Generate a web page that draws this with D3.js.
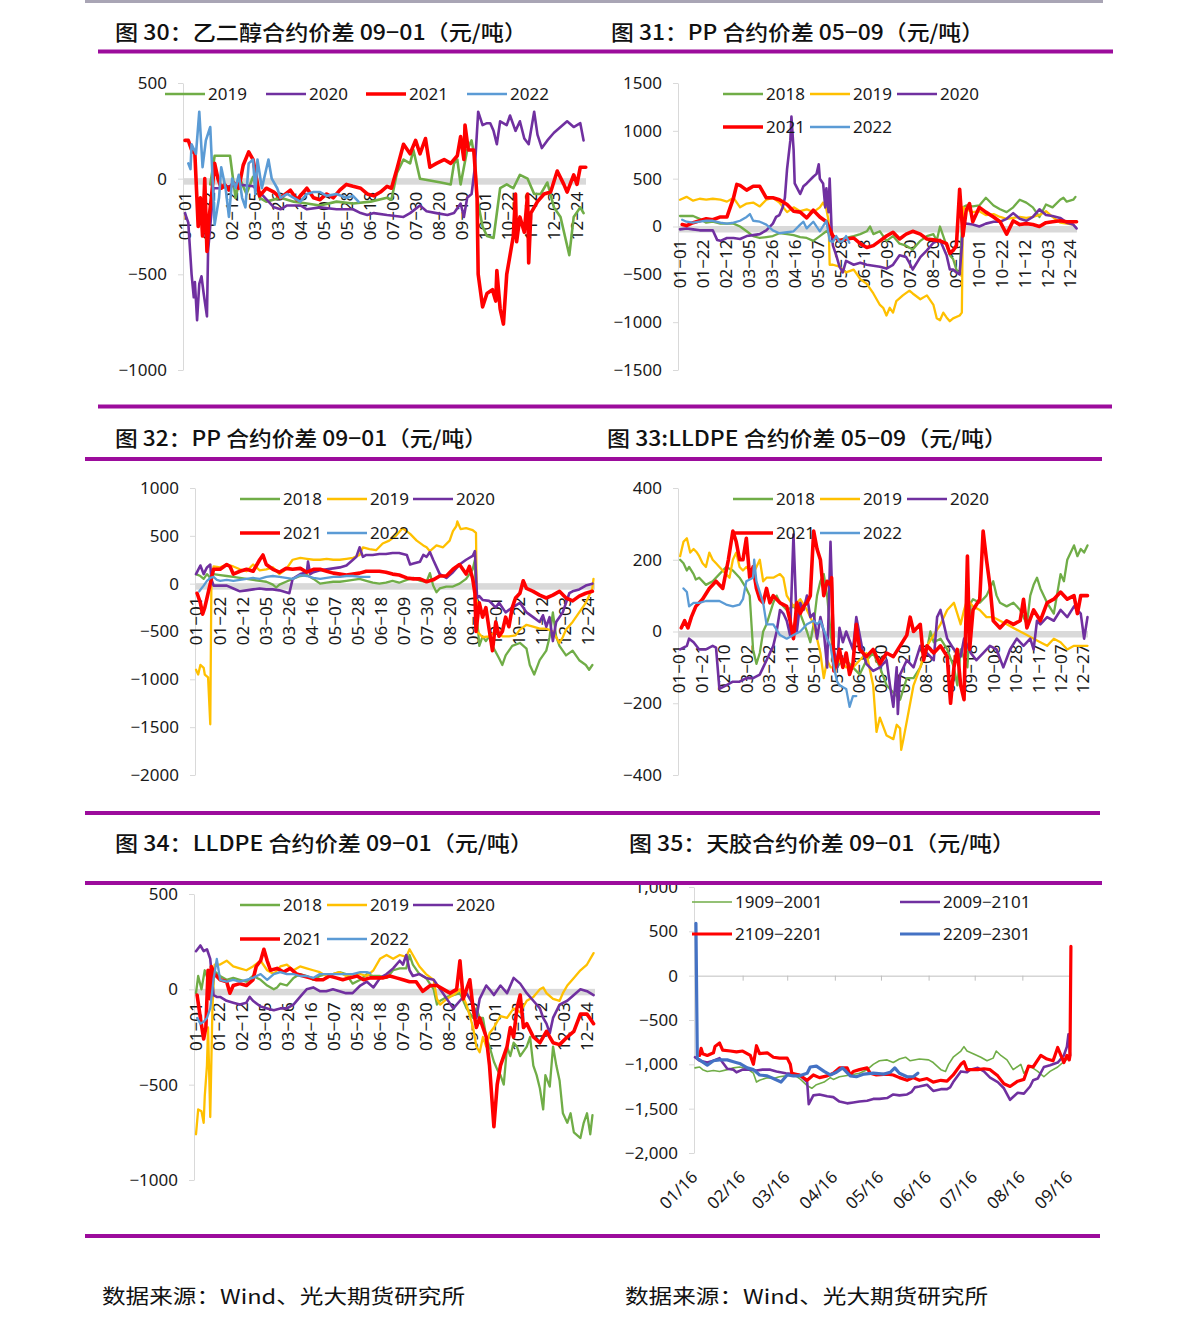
<!DOCTYPE html>
<html>
<head>
<meta charset="utf-8">
<script src="https://cdn.jsdelivr.net/npm/d3@7"></script>
<style>
  body { margin: 0; background: #fff; }
  svg { display: block; }
</style>
</head>
<body>
<svg id="chart" width="1191" height="1330"></svg>
<script>
// ---- category labels (month-day) ----
var cats21 = ["01-01","01-22","02-12","03-05","03-26","04-16","05-07","05-28","06-18","07-09","07-30","08-20","09-10","10-01","10-22","11-12","12-03","12-24"];
var cats20 = ["01-01","01-21","02-10","03-02","03-22","04-11","05-01","05-21","06-10","06-30","07-20","08-09","08-29","09-18","10-08","10-28","11-17","12-07","12-27"];
var rubberTicks = ["01/16","02/16","03/16","04/16","05/16","06/16","07/16","08/16","09/16"];

var yTicks30 = [500, 0, -500, -1000];
var yTicks31 = [1500, 1000, 500, 0, -500, -1000, -1500];
var yTicks32 = [1000, 500, 0, -500, -1000, -1500, -2000];
var yTicks33 = [400, 200, 0, -200, -400];
var yTicks34 = [500, 0, -500, -1000];
var yTicks35 = [1000, 500, 0, -500, -1000, -1500, -2000];

// ---- series: [day of year, value] ----
// 图30 乙二醇 09-01
var meg2019 = [[23,-30],[27,120],[41,120],[46,-100],[50,0],[56,-80],[62,10],[68,-100],[74,-120],[87,-100],[99,-120],[111,-130],[123,-140],[138,-120],[153,-130],[169,-120],[184,-100],[188,-110],[193,30],[199,100],[205,80],[208,150],[214,0],[223,-10],[233,-20],[242,-30],[245,80],[248,100],[251,-30],[257,150],[261,200],[264,100],[266,-100],[271,-250],[275,-300],[281,-310],[287,-50],[293,-30],[299,-50],[305,20],[312,0],[318,-80],[324,-80],[330,-20],[336,-150],[342,-200],[350,-400],[354,-200],[360,-150],[363,-180]];
var meg2020 = [[0,-180],[3,-230],[6,-500],[8,-620],[9,-540],[11,-740],[13,-550],[15,-510],[17,-600],[19,-680],[20,-720],[21,-380],[26,-50],[32,-50],[47,-30],[62,-40],[68,-70],[81,-150],[87,-160],[93,-140],[105,-140],[111,-160],[123,-150],[138,-160],[153,-160],[160,-180],[166,-190],[172,-180],[184,-190],[199,-200],[205,-180],[214,-140],[220,-170],[229,-180],[239,-190],[245,-180],[251,-130],[254,-200],[257,-100],[261,-80],[264,60],[267,350],[271,280],[275,290],[278,290],[281,250],[284,180],[287,300],[293,280],[296,330],[301,250],[305,300],[309,210],[313,180],[318,350],[321,230],[325,160],[330,200],[336,240],[342,270],[348,300],[354,270],[360,290],[363,200]];
var meg2021 = [[0,200],[3,200],[6,150],[9,130],[12,-250],[14,-100],[16,-300],[18,0],[20,-380],[22,-200],[24,-100],[27,80],[30,0],[33,-50],[36,-30],[40,-60],[44,-20],[49,-50],[53,70],[58,140],[62,100],[68,-90],[74,-50],[81,-70],[87,-100],[96,-60],[102,-110],[111,-50],[117,-100],[123,-110],[129,-80],[135,-100],[141,-60],[147,-30],[153,-40],[160,-50],[166,-80],[172,-90],[178,-70],[184,-40],[188,-50],[193,50],[199,180],[205,130],[210,200],[214,130],[219,210],[223,60],[229,80],[236,100],[242,80],[248,120],[251,220],[254,100],[255,280],[258,150],[263,150],[266,-100],[267,-500],[271,-670],[275,-600],[280,-580],[283,-640],[284,-480],[287,-680],[290,-760],[293,-500],[296,-400],[299,-300],[301,-80],[302,-330],[305,-200],[309,-280],[312,-80],[313,-440],[315,-180],[321,-120],[327,-80],[333,-70],[339,40],[345,-30],[348,-70],[354,20],[357,-30],[360,60],[365,60]];
var meg2022 = [[3,80],[5,50],[6,180],[10,130],[13,350],[16,60],[19,200],[23,270],[27,-240],[31,-100],[33,60],[37,-50],[40,-200],[43,0],[46,-50],[49,20],[52,-100],[55,-150],[58,80],[62,100],[64,-80],[66,100],[70,-50],[76,100],[79,0],[84,-50],[87,-100],[93,-80],[99,-100],[105,-120],[111,-80],[117,-70],[123,-70],[129,-90],[138,-80],[147,-100],[153,-90],[158,-120]];

// 图31 PP 05-09
var pp59_2018 = [[0,110],[12,110],[18,80],[24,40],[30,50],[37,30],[49,30],[55,0],[61,-50],[67,-100],[73,-120],[79,-110],[85,-100],[91,-70],[98,-80],[104,-90],[110,-110],[116,-120],[122,-150],[128,-100],[134,-50],[140,-100],[146,-140],[152,-120],[159,-100],[165,-80],[171,-50],[174,0],[177,-80],[183,-50],[189,-150],[195,-100],[201,-180],[207,-200],[213,-240],[220,-150],[226,-100],[232,-80],[235,-150],[238,0],[241,-100],[244,-200],[247,-300],[250,-340],[253,-450],[256,-500],[259,200],[262,220],[268,210],[274,220],[280,300],[287,220],[293,180],[299,150],[305,200],[311,280],[317,250],[323,200],[329,100],[335,230],[341,200],[348,280],[351,300],[354,260],[360,280],[362,310]];
var pp59_2019 = [[0,280],[6,310],[12,270],[18,290],[24,280],[30,290],[37,280],[43,260],[49,300],[55,200],[61,240],[67,250],[73,210],[79,280],[85,300],[91,250],[98,150],[104,200],[110,160],[116,180],[122,150],[128,200],[131,250],[134,180],[136,60],[137,-400],[140,-400],[146,-420],[152,-480],[159,-450],[165,-550],[171,-600],[177,-700],[183,-820],[186,-850],[189,-930],[192,-850],[195,-900],[198,-780],[204,-720],[210,-670],[213,-700],[220,-760],[226,-720],[232,-820],[235,-960],[238,-980],[241,-900],[244,-950],[247,-990],[250,-960],[256,-930],[258,-900],[259,200],[262,180],[268,150],[274,160],[280,120],[287,130],[293,100],[299,80],[305,90],[311,100],[317,90],[323,100],[329,120],[335,160],[341,100],[348,40],[354,30],[360,20]];
var pp59_2020 = [[0,-30],[6,-20],[12,-30],[18,-40],[30,-40],[34,-140],[37,-150],[43,-120],[49,-120],[55,-130],[61,-100],[67,-90],[73,-80],[79,-40],[85,30],[88,100],[91,120],[94,200],[96,300],[98,600],[101,900],[102,1150],[104,800],[105,450],[110,340],[113,420],[116,450],[122,520],[125,550],[127,650],[128,500],[131,450],[133,200],[134,400],[136,150],[137,500],[139,-100],[140,-200],[143,-300],[146,-420],[149,-480],[152,-360],[159,-400],[165,-380],[171,-400],[177,-410],[183,-420],[189,-440],[195,-400],[201,-300],[207,-320],[210,-380],[213,-450],[220,-320],[226,-250],[232,-170],[238,-140],[244,-300],[247,-450],[250,-450],[253,-480],[256,-500],[258,-200],[259,50],[262,30],[268,20],[274,0],[280,30],[287,50],[293,50],[299,80],[305,140],[311,80],[317,60],[323,100],[329,180],[335,120],[341,110],[348,90],[354,40],[360,20],[363,-20]];
var pp59_2021 = [[2,20],[6,10],[12,40],[18,60],[24,80],[30,70],[37,100],[43,100],[49,300],[52,440],[55,430],[61,380],[67,420],[73,420],[79,300],[85,300],[91,280],[98,230],[104,160],[110,150],[116,90],[122,170],[128,100],[134,50],[140,-100],[146,-150],[152,-130],[159,-120],[165,-180],[171,-220],[177,-200],[183,-150],[189,-100],[195,-60],[201,-130],[207,-80],[213,-50],[220,-80],[226,-130],[232,-140],[238,-150],[244,-180],[247,-280],[250,-250],[253,-200],[256,390],[259,-100],[262,170],[265,240],[268,50],[274,200],[280,150],[287,100],[293,50],[299,-80],[305,60],[311,20],[317,30],[323,20],[329,0],[335,40],[341,50],[348,60],[354,50],[363,50]];
var pp59_2022 = [[2,70],[6,50],[12,40],[18,50],[24,60],[30,60],[37,40],[43,30],[49,40],[55,60],[61,100],[64,130],[67,60],[73,50],[79,20],[85,-40],[91,-70],[98,-60],[104,-50],[110,20],[113,50],[116,-20],[122,50],[128,-50],[134,60],[137,-150],[140,-160],[143,-100],[146,-160],[149,-150],[152,-100],[155,-170]];

// 图32 PP 09-01
var pp91_2018 = [[0,100],[4,80],[7,50],[10,100],[13,60],[16,100],[22,90],[28,80],[34,70],[40,60],[46,50],[52,40],[58,30],[64,20],[70,-10],[73,-40],[76,-10],[82,20],[88,50],[95,80],[101,90],[107,50],[113,0],[119,10],[125,20],[131,20],[137,30],[143,40],[149,50],[155,30],[161,10],[167,0],[173,10],[179,30],[185,10],[192,40],[198,60],[204,30],[210,20],[213,110],[216,-20],[219,-90],[222,-50],[228,-30],[234,-30],[240,0],[246,50],[252,150],[254,250],[255,-300],[257,-500],[258,-650],[261,-550],[264,-600],[267,-550],[270,-650],[276,-780],[279,-850],[282,-750],[288,-650],[295,-620],[301,-680],[304,-850],[308,-950],[313,-800],[319,-700],[322,-560],[325,-300],[328,-550],[331,-650],[337,-750],[343,-700],[349,-800],[355,-850],[358,-900],[361,-850]];
var pp91_2019 = [[0,-900],[2,-950],[4,-850],[7,-880],[8,-950],[11,-980],[13,-1470],[14,0],[16,180],[22,170],[28,200],[34,180],[40,150],[46,130],[52,200],[58,140],[64,150],[70,170],[76,100],[82,150],[88,250],[95,270],[101,260],[107,250],[113,250],[119,260],[125,250],[131,250],[137,260],[143,270],[149,300],[152,380],[158,360],[164,350],[170,420],[176,450],[182,500],[188,580],[195,520],[201,450],[207,400],[210,380],[213,340],[219,400],[225,380],[231,450],[234,550],[237,600],[238,650],[241,570],[246,580],[252,560],[255,530],[256,-500],[261,-560],[267,-550],[273,-500],[279,-550],[285,-550],[291,-540],[295,-480],[301,-430],[307,-450],[313,-470],[319,-470],[325,-500],[331,-620],[334,-560],[337,-480],[343,-400],[349,-300],[355,-200],[361,-50],[362,50]];
var pp91_2020 = [[0,100],[4,190],[7,100],[10,170],[13,200],[14,50],[16,-20],[22,-20],[28,-20],[34,-50],[40,-80],[46,-70],[52,-60],[58,-50],[64,-60],[70,-60],[76,-70],[82,-90],[85,-100],[88,50],[95,100],[101,120],[102,230],[104,100],[107,120],[113,140],[119,150],[125,160],[131,170],[137,190],[143,250],[146,280],[149,380],[152,280],[155,300],[161,300],[167,310],[173,310],[179,320],[185,320],[192,300],[195,200],[198,210],[204,230],[207,300],[210,280],[213,330],[216,250],[222,100],[228,60],[234,120],[240,200],[246,250],[252,290],[254,340],[256,-150],[258,-130],[261,-170],[267,-180],[273,-250],[276,-200],[282,-300],[288,-250],[295,-200],[301,-300],[307,-350],[313,-400],[316,-330],[319,-450],[322,-350],[325,-600],[328,-400],[334,-300],[340,-100],[343,-80],[349,-60],[355,-20],[361,0]];
var pp91_2021 = [[1,-100],[4,-200],[6,-320],[8,-250],[10,-150],[13,0],[14,50],[16,150],[22,150],[28,200],[31,180],[34,100],[40,130],[46,150],[52,130],[58,250],[61,300],[64,200],[70,150],[76,120],[82,160],[88,150],[95,160],[101,120],[107,150],[113,150],[119,130],[125,110],[131,100],[137,90],[143,100],[149,110],[155,130],[161,130],[167,130],[173,120],[179,100],[185,90],[192,60],[198,50],[204,50],[210,20],[216,40],[222,80],[228,80],[234,150],[240,200],[246,100],[249,180],[252,50],[254,-100],[255,-500],[258,-200],[261,-350],[264,-250],[267,-480],[270,-700],[273,-400],[276,-550],[279,-500],[282,-350],[285,-450],[288,-250],[291,-150],[295,-100],[298,30],[301,-50],[307,-80],[313,-120],[319,-150],[325,-120],[331,-80],[337,-150],[343,-180],[349,-130],[355,-100],[361,-80]];
var pp91_2022 = [[3,-80],[7,-20],[10,30],[13,60],[16,70],[19,40],[22,30],[28,40],[34,30],[40,40],[46,50],[52,60],[58,50],[64,70],[70,80],[76,70],[82,60],[88,50],[95,90],[101,80],[107,60],[113,50],[119,60],[125,70],[131,70],[137,80],[143,80],[149,70],[155,70],[158,70]];

// 图33 LLDPE 05-09
var le59_2018 = [[1,200],[4,190],[7,170],[9,180],[13,160],[15,145],[18,150],[24,130],[30,140],[36,160],[42,180],[48,170],[54,150],[60,120],[63,100],[65,0],[66,-50],[69,-90],[72,-60],[75,0],[78,20],[81,50],[84,80],[87,100],[90,80],[96,60],[102,70],[108,50],[114,0],[117,-30],[120,20],[123,100],[126,140],[129,160],[132,100],[135,0],[138,-80],[141,-100],[143,-90],[149,-80],[155,-100],[161,-120],[167,-80],[173,-60],[179,-100],[185,-150],[191,-170],[197,-190],[203,-130],[209,-130],[215,-100],[221,-50],[224,0],[227,-30],[233,-20],[239,-50],[245,-100],[248,-150],[251,-50],[257,-100],[260,80],[262,90],[268,80],[274,100],[280,140],[283,100],[286,80],[292,70],[298,80],[304,60],[310,20],[313,100],[316,130],[319,150],[322,120],[328,80],[334,50],[340,160],[343,140],[346,200],[352,240],[355,210],[358,230],[361,220],[364,240]];
var le59_2019 = [[1,210],[4,250],[7,260],[10,220],[13,230],[16,220],[18,210],[21,190],[24,180],[27,220],[30,200],[33,190],[36,180],[42,160],[45,150],[48,200],[51,220],[54,180],[57,170],[60,180],[66,160],[69,180],[72,200],[75,140],[78,150],[84,150],[90,160],[93,150],[96,100],[102,70],[108,90],[114,60],[120,20],[126,-60],[129,-130],[132,-80],[135,-100],[138,-100],[143,-80],[149,-100],[155,-100],[161,-80],[167,-60],[173,-150],[176,-280],[179,-240],[185,-290],[191,-300],[194,-260],[197,-270],[198,-330],[200,-300],[203,-250],[209,-150],[215,-100],[221,-40],[227,-10],[233,20],[239,60],[245,80],[248,50],[251,20],[254,60],[257,90],[262,70],[268,60],[274,40],[280,40],[286,30],[292,20],[298,10],[304,0],[310,-10],[316,-20],[322,-30],[328,-40],[334,-20],[340,-30],[346,-50],[352,-40],[358,-40],[364,-40]];
var le59_2020 = [[1,-50],[7,-40],[9,-20],[13,-30],[18,-50],[24,-50],[30,-40],[33,-45],[36,-160],[42,-150],[48,-140],[54,-140],[60,-130],[66,-130],[72,-120],[75,-100],[78,-80],[84,-40],[87,0],[90,60],[93,50],[96,30],[99,-10],[102,270],[104,100],[105,0],[108,80],[111,60],[114,100],[117,40],[120,50],[123,-20],[126,40],[129,0],[132,-100],[135,250],[138,-50],[141,-100],[143,10],[146,-30],[149,0],[155,-50],[158,40],[161,-10],[164,-60],[167,-90],[173,-110],[179,-100],[185,-80],[188,-150],[191,-210],[194,-100],[195,-230],[197,-120],[203,-80],[209,-100],[215,-40],[221,-60],[227,-80],[230,40],[233,60],[236,20],[239,-20],[245,-50],[251,-70],[254,-20],[260,-60],[265,-80],[271,-60],[277,-40],[283,-50],[289,-100],[295,-50],[301,-20],[307,-40],[313,-20],[316,-50],[319,30],[322,20],[328,40],[334,30],[340,60],[346,40],[352,70],[358,50],[361,-20],[364,40]];
var le59_2021 = [[2,10],[5,30],[8,10],[11,40],[15,70],[21,90],[27,120],[33,140],[39,120],[44,200],[48,280],[51,250],[54,200],[57,200],[60,260],[63,150],[66,180],[69,120],[72,90],[75,80],[78,120],[81,80],[84,100],[87,90],[90,80],[96,70],[99,30],[102,-20],[105,80],[108,50],[111,70],[114,80],[117,100],[120,280],[123,230],[126,200],[129,100],[132,140],[135,130],[136,150],[138,-110],[141,-80],[143,-50],[146,-100],[149,-60],[152,-120],[155,-90],[158,20],[161,-50],[167,-70],[173,-50],[179,-90],[185,-60],[191,-70],[197,-40],[203,-10],[206,40],[209,0],[215,20],[218,-80],[221,-40],[227,-60],[233,-40],[239,-70],[242,-200],[245,-100],[248,-50],[251,-150],[254,-190],[257,210],[259,-50],[262,60],[268,90],[271,280],[274,200],[277,130],[280,30],[286,10],[292,30],[298,20],[304,30],[307,90],[310,10],[316,60],[322,30],[328,80],[334,90],[340,110],[346,90],[352,100],[355,50],[358,100],[364,100]];
var le59_2022 = [[4,120],[7,110],[9,70],[13,80],[18,80],[24,85],[30,85],[36,85],[42,75],[48,70],[54,75],[57,90],[60,140],[66,150],[67,200],[69,140],[72,110],[75,80],[78,20],[84,20],[90,-10],[96,-20],[102,-10],[108,0],[114,20],[120,30],[123,20],[126,30],[132,-20],[135,-40],[138,-100],[141,-140],[143,-150],[149,-160],[152,-210],[155,-180],[158,-180]];

// 图34 LLDPE 09-01
var le91_2018 = [[0,-20],[2,70],[5,0],[8,100],[11,50],[13,-50],[16,100],[22,70],[28,50],[34,60],[40,50],[46,40],[52,70],[59,50],[65,20],[71,0],[74,10],[77,30],[83,20],[89,60],[95,80],[101,70],[107,50],[113,70],[119,80],[125,80],[131,90],[137,80],[143,30],[150,50],[156,80],[162,70],[168,70],[174,60],[180,100],[186,110],[192,110],[195,180],[198,130],[204,80],[210,60],[217,0],[220,-80],[223,-60],[229,-40],[235,-30],[241,-20],[247,-100],[253,-150],[256,-100],[259,-150],[262,-150],[265,-250],[268,-300],[272,-380],[275,-420],[278,-450],[281,-500],[284,-300],[287,-350],[290,-280],[293,-300],[296,-350],[302,-300],[305,-250],[308,-400],[311,-450],[314,-520],[317,-630],[319,-450],[323,-510],[326,-300],[329,-400],[332,-480],[335,-650],[339,-700],[342,-650],[345,-750],[351,-780],[354,-700],[357,-650],[360,-760],[362,-660]];
var le91_2019 = [[0,-760],[2,-630],[5,-640],[7,-700],[8,-560],[10,-400],[11,-200],[13,-670],[15,-100],[17,130],[22,130],[28,150],[34,120],[40,110],[46,100],[52,120],[59,150],[65,100],[71,80],[77,120],[83,130],[89,100],[95,120],[101,110],[107,100],[113,90],[119,70],[125,80],[131,90],[137,70],[143,80],[150,80],[156,70],[162,100],[168,160],[174,180],[180,160],[186,180],[192,170],[195,210],[198,180],[204,120],[210,80],[217,50],[220,-50],[223,-80],[229,-50],[235,-30],[241,0],[247,-80],[253,-200],[256,-300],[259,-330],[262,-250],[265,-300],[268,-230],[272,-200],[278,-140],[284,-150],[290,-100],[296,-120],[302,-60],[308,-40],[314,0],[317,10],[320,-20],[326,-50],[332,-60],[335,-20],[339,20],[345,60],[351,100],[357,130],[363,190]];
var le91_2020 = [[0,200],[4,230],[7,200],[10,210],[13,160],[16,-30],[19,-40],[22,-40],[28,-60],[34,-70],[40,-80],[46,-70],[49,-40],[52,-60],[59,-90],[65,-100],[71,-110],[77,-100],[83,-100],[89,-80],[95,-40],[101,0],[107,10],[113,-10],[119,-10],[125,0],[131,-10],[137,-20],[143,-20],[150,20],[156,40],[162,10],[168,60],[174,80],[180,110],[186,150],[189,130],[192,180],[195,100],[198,70],[204,80],[210,60],[217,50],[223,0],[229,-50],[235,-100],[241,-60],[247,-20],[253,-80],[256,-150],[259,-50],[265,20],[268,0],[272,-30],[278,20],[284,-20],[290,60],[296,30],[302,-20],[308,-60],[314,-100],[317,-150],[320,-180],[323,-230],[326,-150],[332,-80],[339,-60],[345,-30],[351,0],[357,-10],[363,-30]];
var le91_2021 = [[1,-30],[4,-150],[7,-260],[9,-200],[11,100],[13,-50],[14,120],[17,80],[22,50],[28,40],[31,-20],[34,20],[40,30],[46,20],[52,50],[55,120],[59,150],[62,210],[65,150],[68,100],[74,110],[80,90],[86,110],[92,80],[98,70],[104,60],[110,50],[116,50],[122,70],[128,60],[134,50],[140,60],[147,70],[153,50],[159,60],[165,60],[171,60],[177,70],[183,60],[189,50],[195,40],[201,40],[207,-10],[214,20],[220,20],[226,0],[232,-20],[238,0],[241,150],[244,-50],[247,0],[250,50],[253,-100],[256,-200],[259,-150],[262,-200],[265,-250],[268,-400],[272,-720],[275,-500],[278,-400],[281,-350],[284,-300],[287,-200],[290,-250],[293,-100],[296,-30],[299,-200],[302,-180],[308,-250],[314,-280],[320,-220],[326,-280],[332,-290],[339,-250],[345,-220],[351,-130],[357,-130],[363,-180]];
var le91_2022 = [[1,-150],[4,-180],[7,-170],[10,-150],[13,-100],[16,50],[19,160],[22,50],[28,40],[34,50],[40,40],[46,50],[52,60],[59,80],[65,50],[71,80],[77,90],[83,80],[89,80],[95,70],[101,70],[107,60],[113,80],[119,80],[125,80],[131,80],[137,80],[143,80],[150,90],[156,90],[159,85]];

// 图35 天胶 09-01 : [days after 01/16, value]
var ru1909 = [[0,-1040],[3,-1030],[5,-1060],[8,-1080],[12,-1070],[16,-1080],[21,-1060],[25,-1040],[29,-1030],[34,-1050],[38,-1100],[40,-1200],[42,-1180],[47,-1150],[51,-1160],[55,-1140],[59,-1130],[64,-1110],[68,-1160],[73,-1240],[76,-1270],[79,-1230],[84,-1200],[88,-1150],[90,-1170],[94,-1140],[101,-1120],[107,-1100],[112,-1060],[116,-1000],[120,-960],[125,-950],[129,-980],[133,-940],[137,-920],[140,-960],[146,-940],[152,-950],[155,-980],[160,-1060],[163,-1080],[165,-1000],[168,-920],[173,-850],[175,-800],[177,-850],[181,-880],[186,-920],[190,-960],[194,-930],[196,-850],[199,-900],[203,-950],[207,-1060],[212,-1000],[214,-1100],[218,-1020],[223,-1080],[227,-1140],[231,-1080],[236,-1030],[240,-970],[244,-920]];
var ru2009 = [[0,-920],[3,-960],[8,-980],[12,-960],[16,-930],[18,-980],[21,-1050],[25,-1060],[27,-1090],[31,-1060],[36,-1060],[40,-1070],[44,-1060],[49,-1060],[53,-1080],[59,-1100],[64,-1110],[68,-1120],[73,-1200],[74,-1450],[77,-1350],[81,-1340],[86,-1360],[90,-1370],[94,-1420],[99,-1440],[103,-1430],[107,-1420],[112,-1410],[116,-1390],[120,-1390],[125,-1380],[129,-1340],[133,-1350],[138,-1340],[141,-1310],[143,-1260],[146,-1250],[151,-1230],[155,-1300],[160,-1280],[164,-1280],[166,-1260],[168,-1200],[173,-1080],[177,-1090],[179,-1060],[184,-1040],[188,-1080],[192,-1150],[197,-1200],[201,-1270],[205,-1400],[210,-1320],[214,-1330],[218,-1250],[220,-1180],[223,-1160],[227,-1030],[231,-1010],[236,-980],[240,-900],[242,-800],[243,-660],[244,-900]];
var ru2109 = [[3,-900],[4,-820],[5,-880],[8,-900],[12,-870],[13,-800],[16,-760],[18,-840],[23,-850],[27,-860],[31,-850],[36,-900],[38,-1000],[40,-790],[42,-880],[47,-870],[51,-920],[55,-930],[60,-930],[62,-1000],[63,-1100],[68,-1120],[73,-1180],[77,-1120],[81,-1150],[86,-1130],[90,-1100],[94,-1040],[99,-1040],[101,-1120],[103,-1080],[107,-1060],[112,-1040],[114,-1100],[118,-1120],[125,-1110],[129,-1120],[133,-1150],[138,-1180],[142,-1150],[146,-1180],[151,-1160],[155,-1200],[160,-1180],[164,-1190],[168,-1120],[173,-1000],[175,-970],[177,-1060],[184,-1060],[188,-1050],[192,-1060],[197,-1130],[201,-1220],[205,-1250],[210,-1190],[214,-1170],[217,-1020],[220,-1030],[225,-900],[229,-940],[233,-960],[236,-810],[240,-980],[242,-900],[243.5,-950],[244,-900],[244.6,330]];
var ru2209 = [[0.6,590],[1.5,-930],[3,-950],[8,-1010],[12,-960],[16,-950],[21,-950],[25,-970],[29,-990],[34,-1040],[38,-1060],[42,-1120],[47,-1130],[51,-1160],[56,-1200],[60,-1120],[64,-1130],[68,-1130],[73,-1100],[75,-1030],[79,-1020],[84,-1080],[88,-1120],[92,-1090],[96,-1040],[101,-1130],[105,-1140],[110,-1110],[116,-1100],[123,-1110],[127,-1090],[130,-1040],[133,-1100],[138,-1140],[142,-1140],[145,-1100]];

// ---- drawing ----
var GREEN = "#70AD47", YELLOW = "#FFC000", PURPLE = "#7030A0", RED = "#FF0000", BLUE = "#5B9BD5", BLUE2 = "#4472C4";
var NUM_FONT = "'Noto Sans', 'Liberation Sans', sans-serif";
var CJK_FONT = "'Noto Sans CJK SC', sans-serif";
var svg = d3.select("#chart");
svg.append("rect").attr("width", 1191).attr("height", 1330).attr("fill", "#fff");

function doy(md) {
  var t = d3.timeParse("%Y-%m-%d")("2021-" + md);
  return d3.timeDay.count(new Date(2021, 0, 1), t);
}
function dash(s) { return s.replace("-", "\u2212"); }

function drawPanel(c) {
  var g = svg.append("g");
  var y = d3.scaleLinear().domain([c.yTicks[c.yTicks.length - 1], c.yTicks[0]]).range([c.yBottom, c.yTop]);
  var x = d3.scaleLinear().domain(c.xDomain).range(c.xRange);
  var y0 = y(0);

  if (c.cats) {
    g.append("rect").attr("x", c.axisX).attr("y", y0 - 0.5)
      .attr("width", c.plotRight - c.axisX).attr("height", 6.5).attr("fill", "#d9d9d9");
  }

  var ya = g.append("g").attr("transform", "translate(" + c.axisX + ",0)")
    .call(d3.axisLeft(y).tickValues(c.yTicks).tickSize(5).tickSizeOuter(0).tickPadding(11).tickFormat(c.yFmt));
  ya.attr("font-family", NUM_FONT).attr("font-size", 17);
  ya.select(".domain").attr("stroke", "#d9d9d9");
  ya.selectAll(".tick line").attr("stroke", "#d9d9d9");
  ya.selectAll(".tick text").attr("fill", "#1a1a1a");

  if (c.cats) {
    var days = c.cats.map(doy);
    var xa = g.append("g").attr("transform", "translate(0," + y0 + ")")
      .call(d3.axisBottom(x).tickValues(days).tickSize(0).tickFormat(function (d, i) { return dash(c.cats[i]); }));
    xa.attr("font-family", NUM_FONT).attr("font-size", 17);
    xa.select(".domain").remove();
    xa.selectAll(".tick text").attr("fill", "#1a1a1a")
      .attr("transform", "rotate(-90)").attr("text-anchor", "end")
      .attr("x", -13).attr("y", 0).attr("dy", "0.35em");
  } else {
    var tdays = c.timeTicks.map(function (s) {
      return d3.timeDay.count(new Date(2020, 0, 16), d3.timeParse("%Y/%m/%d")("2020/" + s));
    });
    var za = g.append("g").attr("transform", "translate(0," + y0 + ")")
      .call(d3.axisBottom(x).tickValues(tdays).tickSize(5).tickSizeOuter(0).tickFormat(""));
    za.select(".domain").attr("stroke", "#bfbfbf");
    za.selectAll(".tick line").attr("stroke", "#bfbfbf");
    var ba = g.append("g").attr("transform", "translate(0," + c.yBottom + ")")
      .call(d3.axisBottom(x).tickValues(tdays).tickSize(0).tickFormat(function (d, i) { return c.timeTicks[i]; }));
    ba.attr("font-family", NUM_FONT).attr("font-size", 17);
    ba.select(".domain").remove();
    ba.selectAll(".tick text").attr("fill", "#1a1a1a")
      .attr("transform", "translate(-1,21) rotate(-45)").attr("text-anchor", "end")
      .attr("x", 0).attr("y", 0).attr("dy", "0.35em");
  }

  var line = d3.line().x(function (d) { return x(d[0]); }).y(function (d) { return y(d[1]); });
  c.series.forEach(function (s) {
    g.append("path").attr("d", line(s.data)).attr("fill", "none")
      .attr("stroke", s.color).attr("stroke-width", s.w)
      .attr("stroke-linejoin", "round").attr("stroke-linecap", "round");
  });

  c.series.forEach(function (s, i) {
    var p = c.legend[i];
    g.append("line").attr("x1", p[0]).attr("x2", p[0] + 40).attr("y1", p[1]).attr("y2", p[1])
      .attr("stroke", s.color).attr("stroke-width", s.w);
    g.append("text").attr("x", p[0] + 43).attr("y", p[1]).attr("dy", "0.36em")
      .attr("font-family", NUM_FONT).attr("font-size", 17).attr("fill", "#1a1a1a").text(s.name);
  });
}

var fmtD = d3.format("d"), fmtC = d3.format(",");

drawPanel({ yTicks: yTicks30, yTop: 83, yBottom: 370, xDomain: [0, 357], xRange: [185, 577], axisX: 183, plotRight: 586,
  cats: cats21, yFmt: fmtD,
  series: [{ name: "2019", data: meg2019, color: GREEN, w: 2.6 }, { name: "2020", data: meg2020, color: PURPLE, w: 2.6 },
           { name: "2021", data: meg2021, color: RED, w: 3.6 }, { name: "2022", data: meg2022, color: BLUE, w: 2.6 }],
  legend: [[165, 94], [266, 94], [366, 94], [467, 94]] });

drawPanel({ yTicks: yTicks31, yTop: 83, yBottom: 370, xDomain: [0, 357], xRange: [680, 1070], axisX: 678, plotRight: 1077,
  cats: cats21, yFmt: fmtD,
  series: [{ name: "2018", data: pp59_2018, color: GREEN, w: 2.3 }, { name: "2019", data: pp59_2019, color: YELLOW, w: 2.3 },
           { name: "2020", data: pp59_2020, color: PURPLE, w: 2.6 }, { name: "2021", data: pp59_2021, color: RED, w: 3.6 },
           { name: "2022", data: pp59_2022, color: BLUE, w: 2.3 }],
  legend: [[723, 94], [810, 94], [897, 94], [723, 127], [810, 127]] });

drawPanel({ yTicks: yTicks32, yTop: 488, yBottom: 775, xDomain: [0, 357], xRange: [196, 588], axisX: 195, plotRight: 595,
  cats: cats21, yFmt: fmtD,
  series: [{ name: "2018", data: pp91_2018, color: GREEN, w: 2.3 }, { name: "2019", data: pp91_2019, color: YELLOW, w: 2.3 },
           { name: "2020", data: pp91_2020, color: PURPLE, w: 2.6 }, { name: "2021", data: pp91_2021, color: RED, w: 3.6 },
           { name: "2022", data: pp91_2022, color: BLUE, w: 2.3 }],
  legend: [[240, 499], [327, 499], [413, 499], [240, 533], [327, 533]] });

drawPanel({ yTicks: yTicks33, yTop: 488, yBottom: 775, xDomain: [0, 360], xRange: [679, 1083], axisX: 678, plotRight: 1088,
  cats: cats20, yFmt: fmtD,
  series: [{ name: "2018", data: le59_2018, color: GREEN, w: 2.3 }, { name: "2019", data: le59_2019, color: YELLOW, w: 2.3 },
           { name: "2020", data: le59_2020, color: PURPLE, w: 2.6 }, { name: "2021", data: le59_2021, color: RED, w: 3.6 },
           { name: "2022", data: le59_2022, color: BLUE, w: 2.3 }],
  legend: [[733, 499], [820, 499], [907, 499], [733, 533], [820, 533]] });

drawPanel({ yTicks: yTicks34, yTop: 894, yBottom: 1180, xDomain: [0, 357], xRange: [196, 587], axisX: 194, plotRight: 595,
  cats: cats21, yFmt: fmtD,
  series: [{ name: "2018", data: le91_2018, color: GREEN, w: 2.3 }, { name: "2019", data: le91_2019, color: YELLOW, w: 2.3 },
           { name: "2020", data: le91_2020, color: PURPLE, w: 2.6 }, { name: "2021", data: le91_2021, color: RED, w: 3.6 },
           { name: "2022", data: le91_2022, color: BLUE, w: 2.3 }],
  legend: [[240, 905], [327, 905], [413, 905], [240, 939], [327, 939]] });

drawPanel({ yTicks: yTicks35, yTop: 887, yBottom: 1153, xDomain: [0, 244], xRange: [695, 1070], axisX: 694,
  timeTicks: rubberTicks, yFmt: fmtC,
  series: [{ name: "1909\u22122001", data: ru1909, color: GREEN, w: 1.6 }, { name: "2009\u22122101", data: ru2009, color: PURPLE, w: 2.6 },
           { name: "2109\u22122201", data: ru2109, color: RED, w: 3.2 }, { name: "2209\u22122301", data: ru2209, color: BLUE2, w: 3.2 }],
  legend: [[692, 902], [900, 902], [692, 934], [900, 934]] });

// ---- titles, separators, footers ----
var titles = [
  ["图 30：乙二醇合约价差 09\u221201（元/吨）", 115, 40, 412],
  ["图 31：PP 合约价差 05\u221209（元/吨）", 611, 40, 373],
  ["图 32：PP 合约价差 09\u221201（元/吨）", 115, 446, 372],
  ["图 33:LLDPE 合约价差 05\u221209（元/吨）", 607, 446, 400],
  ["图 34：LLDPE 合约价差 09\u221201（元/吨）", 115, 851, 418],
  ["图 35：天胶合约价差 09\u221201（元/吨）", 629, 851, 386]
];
titles.forEach(function (t) {
  svg.append("text").attr("x", t[1]).attr("y", t[2]).attr("textLength", t[3]).attr("lengthAdjust", "spacingAndGlyphs")
    .attr("font-family", CJK_FONT).attr("font-size", 21).attr("font-weight", 500).attr("fill", "#111").text(t[0]);
});

svg.append("rect").attr("x", 85).attr("y", 0).attr("width", 1018).attr("height", 3).attr("fill", "#a9a5b5");
var seps = [[98, 49.5, 1015], [98, 404.5, 1014], [85, 457, 1017], [85, 811, 1015], [85, 881, 1017], [85, 1234, 1015]];
seps.forEach(function (s) {
  svg.append("rect").attr("x", s[0]).attr("y", s[1]).attr("width", s[2]).attr("height", 4).attr("fill", "#9C0C9C");
});

[[102, 1304], [625, 1304]].forEach(function (p) {
  svg.append("text").attr("x", p[0]).attr("y", p[1]).attr("textLength", 363).attr("lengthAdjust", "spacingAndGlyphs")
    .attr("font-family", CJK_FONT).attr("font-size", 20).attr("fill", "#111").text("数据来源：Wind、光大期货研究所");
});
</script>
</body>
</html>
